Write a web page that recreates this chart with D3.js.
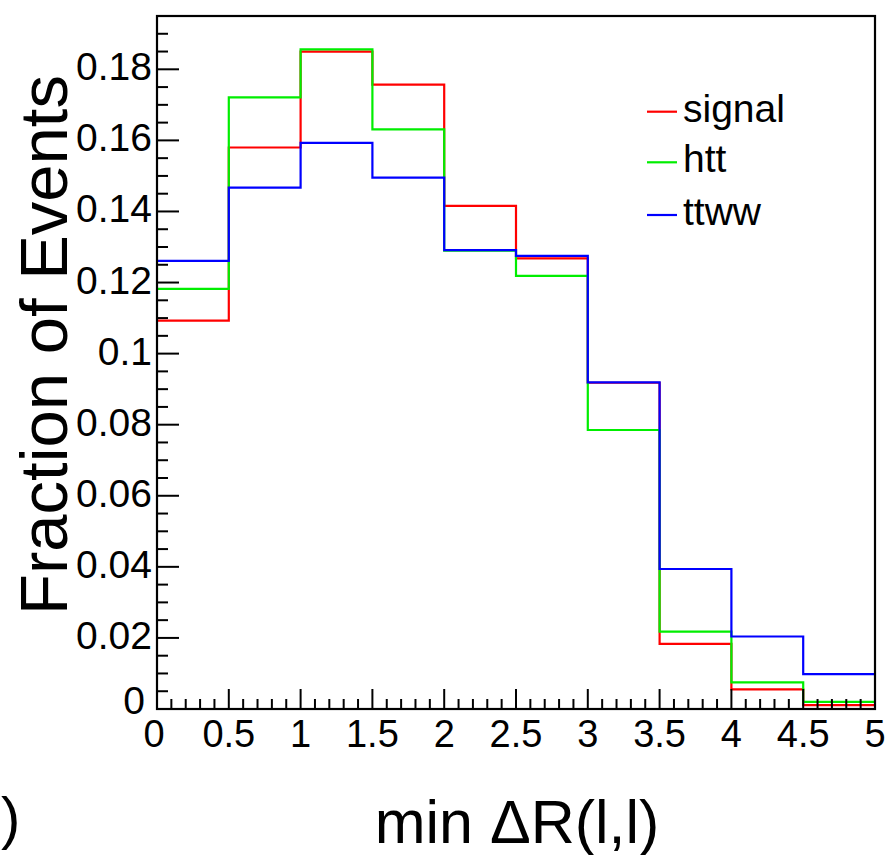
<!DOCTYPE html>
<html>
<head>
<meta charset="utf-8">
<script src="https://cdn.jsdelivr.net/npm/d3@7"></script>
<style>
  html, body { margin: 0; padding: 0; background: #fff; }
  svg { display: block; }
  text { font-family: "Liberation Sans", Arial, Helvetica, sans-serif; fill: #000; }
</style>
</head>
<body>
<script>
// ---- data ----
const binEdges = [0, 0.5, 1, 1.5, 2, 2.5, 3, 3.5, 4, 4.5, 5];
const signal = [0.1093, 0.1580, 0.1850, 0.1757, 0.1416, 0.1268, 0.0918, 0.0183, 0.0055, 0.0011];
const htt    = [0.1182, 0.1721, 0.1856, 0.1631, 0.1290, 0.1219, 0.0785, 0.0218, 0.0075, 0.0020];
const ttww   = [0.1261, 0.1467, 0.1593, 0.1495, 0.1291, 0.1275, 0.0919, 0.0394, 0.0204, 0.0098];
const seriesNames = ["signal", "htt", "ttww"];
const seriesColors = ["#ff0000", "#00ee00", "#0000ff"];
const xTickValues = [0, 0.5, 1, 1.5, 2, 2.5, 3, 3.5, 4, 4.5, 5];
const xTickLabels = ["0", "0.5", "1", "1.5", "2", "2.5", "3", "3.5", "4", "4.5", "5"];
const yTickValues = [0, 0.02, 0.04, 0.06, 0.08, 0.1, 0.12, 0.14, 0.16, 0.18];
const yTickLabels = ["0", "0.02", "0.04", "0.06", "0.08", "0.1", "0.12", "0.14", "0.16", "0.18"];
const xTitle = "min \u0394R(l,l)";
const yTitle = "Fraction of Events";

// ---- layout ----
const W = 888, H = 855;
const L = 157, R = 875, T = 16, B = 709;

const svg = d3.select("body").append("svg").attr("width", W).attr("height", H);

const x = d3.scaleLinear().domain([0, 5]).range([L, R]);
const y = d3.scaleLinear().domain([0, 0.195]).range([B, T]);

// histograms
const allSeries = [signal, htt, ttww];
allSeries.forEach((vals, i) => {
  const pts = [];
  vals.forEach((v, k) => {
    pts.push([x(binEdges[k]), y(v)]);
    pts.push([x(binEdges[k + 1]), y(v)]);
  });
  svg.append("path")
    .attr("d", d3.line()(pts))
    .attr("fill", "none")
    .attr("stroke", seriesColors[i])
    .attr("stroke-width", 2.2);
});

// frame
svg.append("rect")
  .attr("x", L).attr("y", T).attr("width", R - L).attr("height", B - T)
  .attr("fill", "none").attr("stroke", "#000").attr("stroke-width", 2.2);

// x ticks (drawn inward, upward)
const xMinor = d3.range(0, 5.0001, 0.1);
const gx = svg.append("g");
xMinor.forEach(v => {
  const major = Math.abs(v * 2 - Math.round(v * 2)) < 1e-6;
  gx.append("line")
    .attr("x1", x(v)).attr("x2", x(v))
    .attr("y1", B).attr("y2", B - (major ? 20 : 10))
    .attr("stroke", "#000").attr("stroke-width", 2);
});
xTickValues.forEach((v, i) => {
  gx.append("text")
    .attr("x", x(v) + (i === 0 ? -3 : 0))
    .attr("y", 747)
    .attr("text-anchor", "middle")
    .attr("font-size", 38)
    .text(xTickLabels[i]);
});

// y ticks (drawn inward, rightward)
const yMinor = d3.range(0, 0.1951, 0.005);
const gy = svg.append("g");
yMinor.forEach(v => {
  const major = Math.abs(v * 50 - Math.round(v * 50)) < 1e-6;
  gy.append("line")
    .attr("x1", L).attr("x2", L + (major ? 22 : 11))
    .attr("y1", y(v)).attr("y2", y(v))
    .attr("stroke", "#000").attr("stroke-width", 2);
});
yTickValues.forEach((v, i) => {
  gy.append("text")
    .attr("x", i === 0 ? 145 : 152)
    .attr("y", y(v) + (i === 0 ? 5 : 11))
    .attr("text-anchor", "end")
    .attr("font-size", 39)
    .text(yTickLabels[i]);
});

// axis titles
svg.append("text")
  .attr("transform", `translate(67,345) rotate(-90)`)
  .attr("text-anchor", "middle")
  .attr("font-size", 67)
  .text(yTitle);

svg.append("text")
  .attr("x", 517).attr("y", 843)
  .attr("text-anchor", "middle")
  .attr("font-size", 61)
  .text(xTitle);

// remnant of the panel label at the left edge
svg.append("text")
  .attr("x", 1).attr("y", 838)
  .attr("text-anchor", "start")
  .attr("font-size", 58)
  .text(")");

// legend
const legY = [111.7, 162.3, 215];
seriesNames.forEach((name, i) => {
  svg.append("line")
    .attr("x1", 647).attr("x2", 677)
    .attr("y1", legY[i]).attr("y2", legY[i])
    .attr("stroke", seriesColors[i]).attr("stroke-width", 2.2);
  svg.append("text")
    .attr("x", 683).attr("y", legY[i] + 10)
    .attr("font-size", 39)
    .text(name);
});
</script>
</body>
</html>
